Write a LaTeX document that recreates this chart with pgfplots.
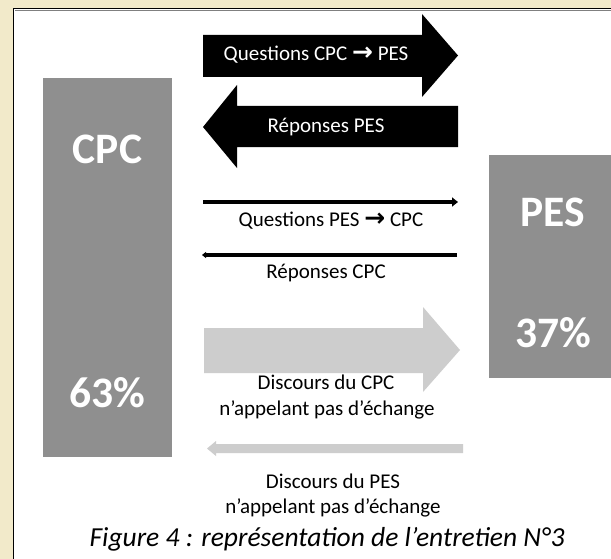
\documentclass[border=0pt]{standalone}
\usepackage{pgfplots}
\pgfplotsset{compat=1.18}
\usepackage{fontspec}
\setmainfont{Carlito}
\newfontfamily\dejavu{DejaVu Sans}
\usetikzlibrary{arrows.meta}
\definecolor{parch}{RGB}{242,234,202}
\definecolor{bargray}{RGB}{143,143,143}
\definecolor{lightg}{RGB}{205,205,205}
\newcommand{\bigtxt}{\fontsize{43.5bp}{48bp}\selectfont\bfseries}
\newcommand{\txt}{\fontsize{21bp}{24bp}\selectfont}
\newcommand{\arr}{{\dejavu\fontsize{25bp}{24bp}\selectfont\bfseries →}}
\begin{document}
\begin{tikzpicture}
\begin{axis}[width=611bp, height=559bp, scale only axis,
  xmin=0, xmax=611, ymin=0, ymax=559, y dir=reverse,
  hide axis, clip=true]
% background and panel
\addplot[fill=parch, draw=none] coordinates {(0,0) (611,0) (611,559) (0,559)} -- cycle;
\addplot[fill=white, draw=black, line width=1.6bp] coordinates {(13.5,8.5) (620,8.5) (620,570) (13.5,570)} -- cycle;
\addplot[draw=gray, line width=0.8bp] coordinates {(15,10.3) (620,10.3)};
% bars: height = 6.02 px per percent (CPC 63, PES 37)
\addplot[fill=bargray, draw=none] coordinates {(43,457) (172,457) (172,77.7) (43,77.7)} -- cycle;
\addplot[fill=bargray, draw=none] coordinates {(489,378) (640,378) (640,155.3) (489,155.3)} -- cycle;
% big black arrows
\addplot[fill=black, draw=none] coordinates {(203,35) (422,35) (422,14) (458,55.5) (422,97) (422,77) (203,77)} -- cycle;
\addplot[fill=black, draw=none] coordinates {(458,106) (237,106) (237,85) (203,127) (237,168) (237,147) (458,147)} -- cycle;
% thin black arrows
\addplot[draw=black, line width=4bp, -{Triangle[length=6bp,width=9bp]}] coordinates {(203,202) (458,202)};
\addplot[draw=black, line width=4bp, -{Triangle[length=4bp,width=6bp]}] coordinates {(457,255) (202,255)};
% light grey arrows
\addplot[fill=lightg, draw=none] coordinates {(204,328) (423,328) (423,307) (460,350) (423,392) (423,373) (204,373)} -- cycle;
\addplot[fill=lightg, draw=none] coordinates {(463,444) (216,444) (216,441) (207,448.5) (216,456) (216,453) (463,453)} -- cycle;
% texts
\node[text=white] at (axis cs:107.5,149) {\bigtxt CPC};
\node[text=white] at (axis cs:107.5,393) {\bigtxt 63\%};
\node[text=white] at (axis cs:553,212) {\bigtxt PES};
\node[text=white] at (axis cs:553,333) {\bigtxt 37\%};
\node[text=white] at (axis cs:316,55) {\txt Questions CPC \arr{} PES};
\node[text=white] at (axis cs:326,127) {\txt Réponses PES};
\node at (axis cs:331,221) {\txt Questions PES \arr{} CPC};
\node at (axis cs:326,273) {\txt Réponses CPC};
\node at (axis cs:326,382) {\txt Discours du CPC};
\node at (axis cs:327,410) {\txt n’appelant pas d’échange};
\node at (axis cs:333,481) {\txt Discours du PES};
\node at (axis cs:333,508) {\txt n’appelant pas d’échange};
\node at (axis cs:327,539) {\fontsize{27.5bp}{30bp}\selectfont\itshape Figure 4 : représentation de l’entretien N°3};
\end{axis}
\end{tikzpicture}
\end{document}
